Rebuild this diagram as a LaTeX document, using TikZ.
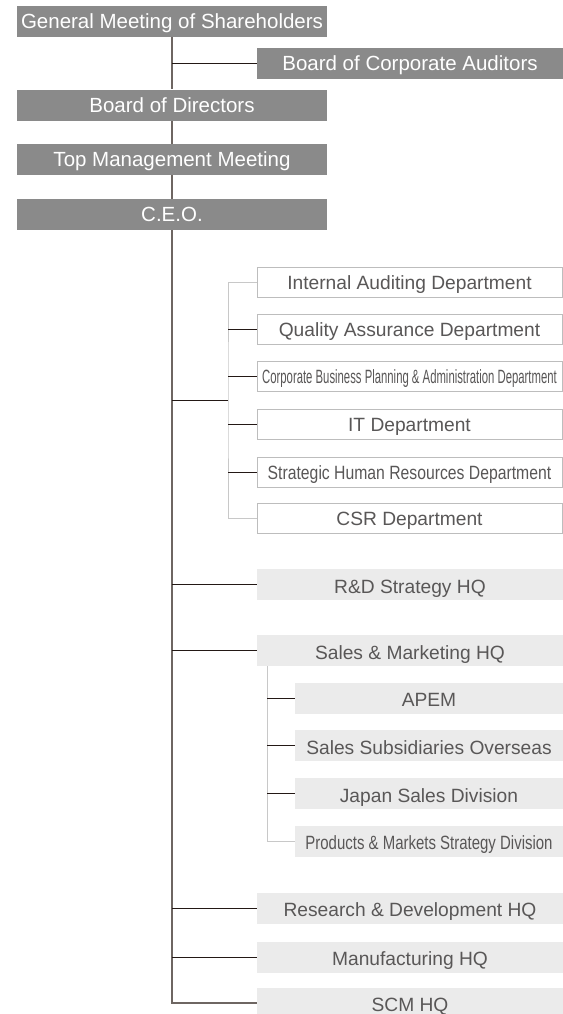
\documentclass[tikz,border=0pt]{standalone}
\usepackage{fontspec}
\setmainfont{Liberation Sans}
\newfontfamily\narrowfont[FakeStretch=0.59]{Liberation Sans}
\newfontfamily\semifont[FakeStretch=0.78]{Liberation Sans}
\newfontfamily\slimfont[FakeStretch=0.82]{Liberation Sans}
\usetikzlibrary{positioning}

\definecolor{headgray}{HTML}{8A8A8A}
\definecolor{hqgray}{HTML}{EBEBEB}
\definecolor{edgegray}{HTML}{BDBDBD}
\definecolor{bargray}{HTML}{C8C8C8}
\definecolor{labelgray}{HTML}{595757}
\definecolor{trunk}{HTML}{6E6662}
\definecolor{tie}{HTML}{231815}

\begin{document}
\begin{tikzpicture}[x=0.5pt,y=-0.5pt,
    headbox/.style={fill=headgray,text=white,minimum width=155pt,minimum height=15.5pt,inner sep=0pt,text height=7.3pt,text depth=0pt,font=\fontsize{10.25}{12}\selectfont},
    auditbox/.style={headbox,minimum width=153pt},
    deptbox/.style={draw=edgegray,line width=0.5pt,fill=white,text=labelgray,minimum width=152.5pt,minimum height=15pt,inner sep=0pt,text height=7.4pt,text depth=0pt,font=\fontsize{9.6}{11}\selectfont},
    hqbox/.style={fill=hqgray,text=labelgray,minimum width=153pt,minimum height=15.5pt,inner sep=0pt,text height=8.6pt,text depth=0pt,font=\fontsize{9.6}{11}\selectfont},
    subbox/.style={hqbox,minimum width=134pt},
    trunkline/.style={draw=trunk,line width=0.65pt},
    tieline/.style={draw=tie,line width=0.5pt},
    barline/.style={draw=bargray,line width=0.5pt}]
        \useasboundingbox (0,0) rectangle (563,1014);

        % Nodes
        \node[headbox] (gms) at (172,21.5) {General Meeting of Shareholders};
        \node[auditbox] (bca) at (410,63.5) {Board of Corporate Auditors};
        \node[headbox] (bod) at (172,105) {Board of Directors};
        \node[headbox] (tmm) at (172,159.5) {Top Management Meeting};
        \node[headbox] (ceo) at (172,214.5) {C.E.O.};

        \node[deptbox] (iad) at (409.5,282) {Internal Auditing Department};
        \node[deptbox] (qad) at (409.5,329.5) {Quality Assurance Department};
        \node[deptbox] (cbp) at (409.5,376.5) {\narrowfont Corporate Business Planning \& Administration Department};
        \node[deptbox] (itd) at (409.5,424) {IT Department};
        \node[deptbox] (shr) at (409.5,472) {\slimfont Strategic Human Resources Department};
        \node[deptbox] (csr) at (409.5,518.5) {CSR Department};

        \node[hqbox] (rds) at (410,584.5) {R\&D Strategy HQ};
        \node[hqbox] (smhq) at (410,650.5) {Sales \& Marketing HQ};
        \node[subbox] (apem) at (429,698) {APEM};
        \node[subbox] (sso) at (429,745.5) {Sales Subsidiaries Overseas};
        \node[subbox] (jsd) at (429,793.5) {Japan Sales Division};
        \node[subbox] (pms) at (429,841) {\semifont Products \& Markets Strategy Division};
        \node[hqbox] (rdhq) at (410,908) {Research \& Development HQ};
        \node[hqbox] (mfg) at (410,957) {Manufacturing HQ};
        \node[hqbox] (scm) at (410,1003) {SCM HQ};

        \coordinate (deptjoint) at (228,400);
        \coordinate (salesbar) at (267,666);

        % Connections
        \draw[trunkline] (gms.south) -- (bod.north);
        \draw[trunkline] (bod.south) -- (tmm.north);
        \draw[trunkline] (tmm.south) -- (ceo.north);
        \draw[trunkline] (ceo.south) |- (scm.west);
        \draw[tieline] (bca.west) -- (bca.west -| gms.south);

        \draw[tieline] (deptjoint) -- (deptjoint -| ceo.south);
        \draw[barline] (iad.west) -| (deptjoint) |- (csr.west);
        \foreach \dept in {qad,cbp,itd,shr}
            \draw[tieline] (\dept.west) -- (\dept.west -| deptjoint);

        \foreach \hq in {rds,smhq,rdhq,mfg}
            \draw[tieline] (\hq.west) -- (\hq.west -| ceo.south);

        \draw[barline] (salesbar) |- (pms.west);
        \foreach \unit in {apem,sso,jsd}
            \draw[tieline] (\unit.west) -- (\unit.west -| salesbar);
    \end{tikzpicture}
\end{document}
